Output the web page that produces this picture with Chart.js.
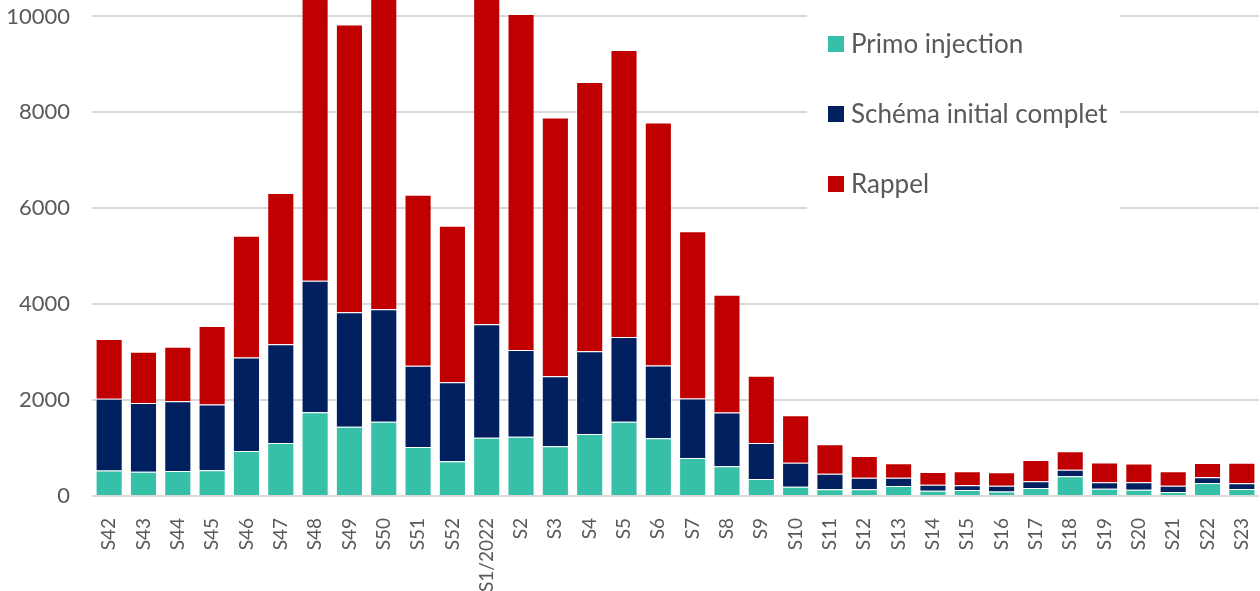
<!DOCTYPE html>
<html>
<head>
<meta charset="utf-8">
<script src="https://cdn.jsdelivr.net/npm/chart.js@4"></script>
<style>
  html, body { margin: 0; padding: 0; background: #fff; }
  #wrap { width: 1260px; height: 591px; position: relative; }
</style>
</head>
<body>
<div id="wrap"><canvas id="chart"></canvas></div>
<script>
const weeks = ["S42", "S43", "S44", "S45", "S46", "S47", "S48", "S49", "S50", "S51", "S52",
  "S1/2022", "S2", "S3", "S4", "S5", "S6", "S7", "S8", "S9", "S10", "S11", "S12", "S13",
  "S14", "S15", "S16", "S17", "S18", "S19", "S20", "S21", "S22", "S23"];

const primo = [530, 505, 520, 535, 940, 1105, 1745, 1445, 1550, 1020, 725,
  1215, 1235, 1035, 1295, 1550, 1205, 790, 620, 355, 195, 140, 140, 210,
  110, 125, 95, 165, 410, 150, 130, 85, 270, 145];

const schema = [1500, 1435, 1455, 1375, 1950, 2060, 2745, 2385, 2345, 1695, 1645,
  2365, 1810, 1460, 1725, 1765, 1515, 1245, 1120, 750, 500, 325, 240, 170,
  125, 100, 120, 145, 140, 135, 155, 130, 120, 120];

const rappel = [1245, 1070, 1140, 1635, 2540, 3155, 6900, 6005, 7000, 3565, 3265,
  7600, 7005, 5400, 5615, 5985, 5070, 3485, 2455, 1405, 990, 615, 455, 305,
  265, 290, 280, 440, 385, 415, 395, 300, 300, 430];

const yTicks = [0, 2000, 4000, 6000, 8000, 10000];
const yMax = 10344;

const FONT = "Lato, 'Open Sans', sans-serif";
const GREY = "#595959";

// legend drawn inside the plot, on a white box that hides the gridlines
const boxLegend = {
  id: "boxLegend",
  beforeDatasetsDraw(chart) {
    const ctx = chart.ctx;
    ctx.save();
    ctx.fillStyle = "#fff";
    ctx.fillRect(807, 0, 313, 216);
    ctx.font = "26px " + FONT;
    ctx.textBaseline = "middle";
    chart.data.datasets.forEach((ds, i) => {
      const y = 44 + i * 70;
      ctx.fillStyle = ds.backgroundColor;
      ctx.fillRect(828, y - 8, 16, 16);
      ctx.fillStyle = GREY;
      ctx.fillText(ds.label, 851, y + 1);
    });
    ctx.restore();
  },
};

new Chart(document.getElementById("chart"), {
  type: "bar",
  data: {
    labels: weeks,
    datasets: [
      { label: "Primo injection", data: primo, backgroundColor: "#37c0a8" },
      { label: "Schéma initial complet", data: schema, backgroundColor: "#002060" },
      { label: "Rappel", data: rappel, backgroundColor: "#c00000" },
    ],
  },
  options: {
    responsive: true,
    maintainAspectRatio: false,
    animation: false,
    layout: { padding: { top: 0, right: 1, bottom: 0, left: 0 } },
    datasets: {
      bar: {
        categoryPercentage: 1,
        barPercentage: 0.79,
        borderWidth: 1,
        borderColor: "rgba(255,255,255,0.3)",
      },
    },
    plugins: {
      legend: { display: false },
      tooltip: { enabled: false },
    },
    scales: {
      x: {
        stacked: true,
        grid: { display: false },
        border: { display: false },
        ticks: {
          color: GREY,
          font: { family: FONT, size: 19 },
          minRotation: 90,
          maxRotation: 90,
          autoSkip: false,
          padding: 14,
        },
        afterFit: (s) => {
          s.height = 95;
          s.paddingLeft = 0;
          s.paddingRight = 0;
        },
      },
      y: {
        stacked: true,
        min: 0,
        max: yMax,
        grid: { color: "#d9d9d9", lineWidth: 2, drawTicks: false },
        border: { display: false },
        ticks: {
          color: GREY,
          font: { family: FONT, size: 22 },
          padding: 22,
          callback: (v) => String(v),
        },
        afterBuildTicks: (s) => { s.ticks = yTicks.map((v) => ({ value: v })); },
        afterFit: (s) => {
          s.width = 92;
          s.paddingTop = 0;
          s.paddingBottom = 0;
        },
      },
    },
  },
  plugins: [boxLegend],
});
</script>
</body>
</html>
